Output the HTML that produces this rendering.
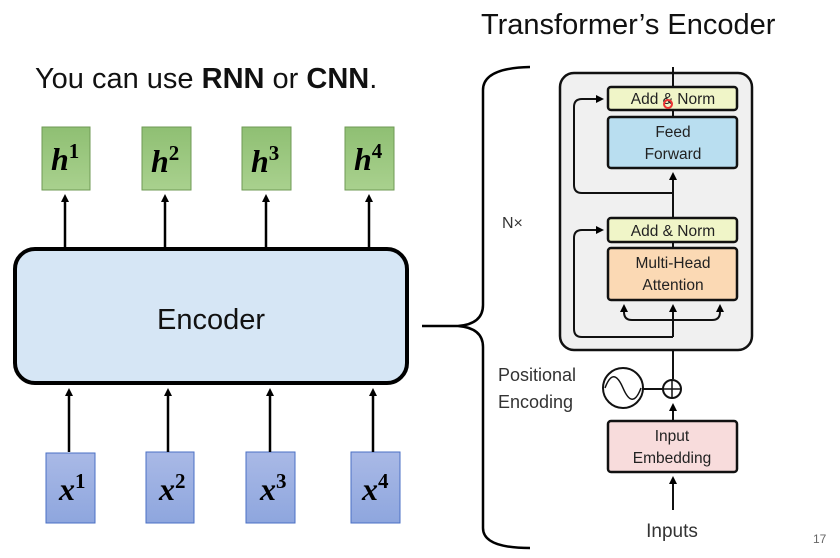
<!DOCTYPE html>
<html><head><meta charset="utf-8"><style>
body{margin:0;width:840px;height:558px;background:#fff;overflow:hidden;position:relative;font-family:"Liberation Sans",sans-serif}
</style></head><body>
<svg width="840" height="558" viewBox="0 0 840 558" xmlns="http://www.w3.org/2000/svg" style="position:absolute;left:0;top:0">
<defs>
<marker id="a" markerWidth="8" markerHeight="8" refX="4" refY="4" orient="auto" markerUnits="userSpaceOnUse"><path d="M0,0 L8,4 L0,8 z" fill="#000"/></marker>
<linearGradient id="g" x1="0" y1="0" x2="0" y2="1"><stop offset="0" stop-color="#8fbf73"/><stop offset="1" stop-color="#a9d18e"/></linearGradient>
<linearGradient id="b" x1="0" y1="0" x2="0" y2="1"><stop offset="0" stop-color="#a9b9e6"/><stop offset="1" stop-color="#8ea6de"/></linearGradient>
</defs>
<text x="35" y="88" font-size="29" fill="#111" font-family="Liberation Sans,sans-serif">You can use <tspan font-weight="bold">RNN</tspan> or <tspan font-weight="bold">CNN</tspan>.</text>
<text x="481" y="34" font-size="29" fill="#111">Transformer’s Encoder</text>
<g stroke="#6f9a55" stroke-width="1" fill="url(#g)">
<rect x="42" y="127" width="48" height="63"/><rect x="142" y="127" width="49" height="63"/><rect x="242" y="127" width="49" height="63"/><rect x="345" y="127" width="49" height="63"/></g>
<g stroke="#4a6fc4" stroke-width="1" fill="url(#b)">
<rect x="46" y="453" width="49" height="70"/><rect x="146" y="452" width="48" height="71"/><rect x="246" y="452" width="49" height="71"/><rect x="351" y="452" width="49" height="71"/></g>
<g font-family="Liberation Serif,serif" font-weight="bold" font-style="italic" font-size="32" fill="#000">
<text x="51" y="170">h<tspan font-size="21" dy="-12" font-style="normal">1</tspan></text>
<text x="151" y="172">h<tspan font-size="21" dy="-12" font-style="normal">2</tspan></text>
<text x="251" y="172">h<tspan font-size="21" dy="-12" font-style="normal">3</tspan></text>
<text x="354" y="170">h<tspan font-size="21" dy="-12" font-style="normal">4</tspan></text>
<text x="59" y="500">x<tspan font-size="21" dy="-12" font-style="normal">1</tspan></text>
<text x="159" y="500">x<tspan font-size="21" dy="-12" font-style="normal">2</tspan></text>
<text x="260" y="500">x<tspan font-size="21" dy="-12" font-style="normal">3</tspan></text>
<text x="362" y="500">x<tspan font-size="21" dy="-12" font-style="normal">4</tspan></text>
</g>
<rect x="15" y="249" width="392" height="134" rx="20" fill="#d6e6f5" stroke="#000" stroke-width="4"/>
<text x="211" y="329" font-size="29" text-anchor="middle" fill="#111">Encoder</text>
<g stroke="#000" stroke-width="2.5" marker-end="url(#a)">
<line x1="65" y1="247" x2="65" y2="198"/><line x1="165" y1="247" x2="165" y2="198"/><line x1="266" y1="247" x2="266" y2="198"/><line x1="369" y1="247" x2="369" y2="198"/>
<line x1="69" y1="452" x2="69" y2="392"/><line x1="168" y1="452" x2="168" y2="392"/><line x1="270" y1="452" x2="270" y2="392"/><line x1="373" y1="452" x2="373" y2="392"/>
</g>
<path d="M530,67 Q483,68 483,90 L483,305 Q483,324 458,326 L422,326 M458,326 Q483,328 483,347 L483,528 Q483,548 530,548" fill="none" stroke="#000" stroke-width="2.5"/>
<rect x="560" y="73" width="192" height="277" rx="14" fill="#f0f0f0" stroke="#111" stroke-width="2.5"/>
<text x="502" y="228" font-size="16" fill="#333">N×</text>
<line x1="673" y1="67" x2="673" y2="87" stroke="#111" stroke-width="2"/>
<line x1="673" y1="350" x2="673" y2="379" stroke="#111" stroke-width="2"/>
<g stroke="#111" stroke-width="2" fill="none">
<line x1="673" y1="193" x2="673" y2="218"/>
<line x1="673" y1="110" x2="673" y2="117"/>
<line x1="673" y1="242" x2="673" y2="248"/>
<line x1="673" y1="337" x2="673" y2="310"/>
<path d="M673,193 L582,193 Q574,193 574,185 L574,107 Q574,99 582,99 L600,99" marker-end="url(#a)"/>
<path d="M673,337 L582,337 Q574,337 574,329 L574,238 Q574,230 582,230 L600,230" marker-end="url(#a)"/>
<path d="M632,320 Q624,320 624,312 L624,308" marker-end="url(#a)"/>
<path d="M632,320 L712,320 Q720,320 720,312 L720,308" marker-end="url(#a)"/>
<line x1="673" y1="193" x2="673" y2="176" marker-end="url(#a)"/>
<line x1="673" y1="320" x2="673" y2="308" marker-end="url(#a)"/>
<line x1="673" y1="421" x2="673" y2="407" marker-end="url(#a)"/>
<line x1="673" y1="510" x2="673" y2="480" marker-end="url(#a)"/>
</g>
<g stroke="#111" stroke-width="2.5">
<rect x="608" y="87" width="129" height="23" rx="3" fill="#f0f5c8"/>
<rect x="608" y="117" width="129" height="51" rx="3" fill="#b9def0"/>
<rect x="608" y="218" width="129" height="24" rx="3" fill="#f0f5c8"/>
<rect x="608" y="248" width="129" height="52" rx="3" fill="#fbd9b4"/>
<rect x="608" y="421" width="129" height="51" rx="3" fill="#f8dcdc"/>
</g>
<g font-size="15.5" fill="#222" text-anchor="middle">
<text x="673" y="104">Add &amp; Norm</text>
<text x="673" y="137">Feed</text><text x="673" y="159">Forward</text>
<text x="673" y="236">Add &amp; Norm</text>
<text x="673" y="268">Multi-Head</text><text x="673" y="290">Attention</text>
<text x="672" y="441">Input</text><text x="672" y="463">Embedding</text>
</g>
<circle cx="668" cy="104" r="4" fill="none" stroke="#e33" stroke-width="2"/>
<circle cx="672" cy="389" r="9" fill="#fff" stroke="#111" stroke-width="2"/>
<path d="M663,389 H681 M672,380 V398" stroke="#111" stroke-width="1.5"/>
<line x1="643" y1="389" x2="663" y2="389" stroke="#111" stroke-width="2"/>
<circle cx="623" cy="388" r="20" fill="#fff" stroke="#111" stroke-width="2"/>
<path d="M605,388 C611,372 617,374 623,388 C629,402 635,404 641,388" fill="none" stroke="#111" stroke-width="1.5"/>
<text x="498" y="381" font-size="18" fill="#333">Positional</text>
<text x="498" y="408" font-size="18" fill="#333">Encoding</text>
<text x="672" y="537" font-size="19" fill="#333" text-anchor="middle">Inputs</text>
<text x="813" y="543" font-size="12" fill="#666">17</text>
</svg>
</body></html>
